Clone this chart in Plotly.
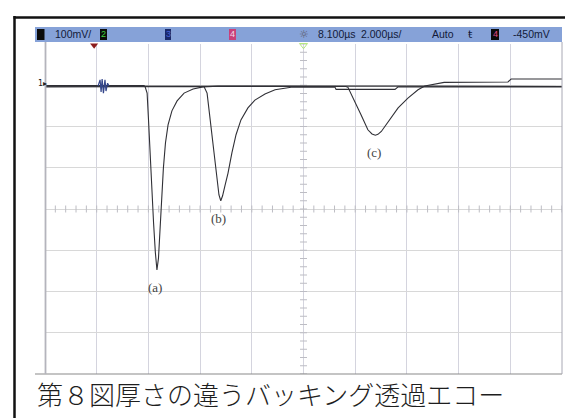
import plotly.graph_objects as go

# ---------------- data ----------------
# time in microseconds, amplitude in mV (baseline ~ 0)
trace_a_t = [-1.90, 1.93, 1.97, 2.05, 2.10, 2.16, 2.22, 2.30, 2.37, 2.43, 2.49, 2.55, 2.61,
             2.68, 2.76, 2.86, 3.01, 3.21, 3.48, 3.83, 4.21, 4.79, 12.14, 13.30, 14.85, 18.10]
trace_a_v = [-1, -1, -3, -19, -79, -164, -249, -334, -406, -448, -419, -346, -273,
             -201, -140, -96, -62, -38, -19, -9, -4, -2, -2, -2, -3, -3]

trace_b_t = [-1.90, 4.25, 4.37, 4.46, 4.56, 4.66, 4.75, 4.83, 4.90, 4.97, 5.06, 5.18, 5.33,
             5.49, 5.68, 5.95, 6.22, 6.61, 7.00, 7.62, 9.32, 9.36, 11.64, 11.76, 18.10]
trace_b_v = [-4, -3, -19, -67, -123, -176, -230, -266, -280, -268, -244, -213, -164,
             -120, -84, -55, -36, -21, -11, -5, -5, -10, -10, -4, -4]

trace_c_t = [-1.90, 9.74, 9.82, 10.08, 10.32, 10.59, 10.75, 10.88, 10.98, 11.11, 11.37,
             11.76, 12.14, 12.53, 12.79, 13.11, 13.54, 16.01, 16.13, 18.10]
trace_c_v = [-2, -3, -5, -38, -71, -108, -118, -121, -119, -112, -89,
             -55, -31, -11, -2, 2, 7, 8, 15, 15]

pulse_t = [0.15, 0.23, 0.27, 0.31, 0.36, 0.42, 0.46, 0.52, 0.58]
pulse_v = [-2, 13, -16, 15, -19, 13, -14, 5, -2]

echo_labels = ["(a)", "(b)", "(c)"]
echo_label_t = [2.34, 4.83, 10.83]
echo_label_v = [-491, -322, -164]

status_texts = ["100mV/", "8.100µs", "2.000µs/", "Auto", "-450mV"]
caption = "第８図厚さの違うバッキング透過エコー"

# ---------------- geometry ----------------
W, H = 573, 418
ML, MR, MT, MB = 37, 19, 36, 52
PW = W - ML - MR
PH = H - MT - MB
T_MIN, T_MAX = -1.9, 18.1
V_MIN, V_MAX = -700, 100
T_DIV, V_DIV = 2.0, 100.0
T_CENTER = (T_MIN + T_MAX) / 2
V_CENTER = (V_MIN + V_MAX) / 2


def px(x):
    return (x - ML) / PW


def py(y):
    return 1 - (y - MT) / PH


fig = go.Figure()

# graticule sub-division ticks along the centre lines
sub_t = []
n = int(round((T_MAX - T_MIN) / (T_DIV / 5)))
for i in range(n + 1):
    sub_t.append(T_MIN + i * T_DIV / 5)
fig.add_trace(go.Scatter(x=sub_t, y=[V_CENTER] * len(sub_t), mode="markers",
                         marker=dict(symbol="line-ns", size=5,
                                     line=dict(color="#bdbdc4", width=1)),
                         hoverinfo="skip", showlegend=False))
sub_v = []
m = int(round((V_MAX - V_MIN) / (V_DIV / 5)))
for i in range(m + 1):
    sub_v.append(V_MIN + i * V_DIV / 5)
fig.add_trace(go.Scatter(x=[T_CENTER] * len(sub_v), y=sub_v, mode="markers",
                         marker=dict(symbol="line-ew", size=5,
                                     line=dict(color="#bdbdc4", width=1)),
                         hoverinfo="skip", showlegend=False))

line_col = "#303036"
for tt, vv in [(trace_a_t, trace_a_v), (trace_b_t, trace_b_v), (trace_c_t, trace_c_v)]:
    fig.add_trace(go.Scatter(x=tt, y=vv, mode="lines",
                             line=dict(color=line_col, width=1.1),
                             hoverinfo="skip", showlegend=False))
fig.add_trace(go.Scatter(x=pulse_t, y=pulse_v, mode="lines",
                         line=dict(color="#34468a", width=1.2),
                         hoverinfo="skip", showlegend=False))

# trigger markers under the status bar
fig.add_trace(go.Scatter(x=[0], y=[V_MAX - 3], mode="markers", cliponaxis=False,
                         marker=dict(symbol="triangle-down", size=7, color="#8b1c1c"),
                         hoverinfo="skip", showlegend=False))
fig.add_trace(go.Scatter(x=[T_CENTER], y=[V_MAX - 3], mode="markers", cliponaxis=False,
                         marker=dict(symbol="triangle-down-open", size=7,
                                     line=dict(color="#999999", width=1)),
                         hoverinfo="skip", showlegend=False))

annotations = []
for lab, lt, lv in zip(echo_labels, echo_label_t, echo_label_v):
    annotations.append(dict(x=lt, y=lv, xref="x", yref="y", text=lab, showarrow=False,
                            font=dict(family="Liberation Serif", size=13, color="#444444")))

shapes = []
# outer frame (left and top)
shapes.append(dict(type="line", xref="paper", yref="paper", x0=px(6.5), x1=px(6.5),
                   y0=py(8), y1=py(420), line=dict(color="#111111", width=2.5)))
shapes.append(dict(type="line", xref="paper", yref="paper", x0=px(5.5), x1=px(575),
                   y0=py(9.5), y1=py(9.5), line=dict(color="#111111", width=2.5)))
# caption separator
shapes.append(dict(type="line", xref="paper", yref="paper", x0=px(27), x1=px(554),
                   y0=py(366), y1=py(366), line=dict(color="#8a8a8a", width=1.2)))
# plot side edges
shapes.append(dict(type="line", xref="paper", yref="paper", x0=px(37.5), x1=px(37.5),
                   y0=py(34), y1=py(366), line=dict(color="#b4b4bc", width=1.8)))
shapes.append(dict(type="line", xref="paper", yref="paper", x0=px(554), x1=px(554),
                   y0=py(34), y1=py(366), line=dict(color="#a8a8b4", width=1)))
# status bar
shapes.append(dict(type="rect", xref="paper", yref="paper", x0=px(27), x1=px(554),
                   y0=py(34), y1=py(19), fillcolor="#86a2d8", line=dict(width=0), layer="above"))
# channel boxes in status bar
boxes = [(29, 36.5, "#0b0b0b"), (92, 99, "#0b0b0b"), (157, 163, "#1a2a6a"),
         (221, 228, "#c8407a"), (483, 491, "#0b0b0b")]
for x0, x1, c in boxes:
    shapes.append(dict(type="rect", xref="paper", yref="paper", x0=px(x0), x1=px(x1),
                       y0=py(32), y1=py(21), fillcolor=c, line=dict(width=0), layer="above"))

sfont = dict(family="Liberation Sans", size=10.5, color="#121a38")
status_x = [46, 309, 352, 423, 504]
for txt, sx in zip(status_texts, status_x):
    annotations.append(dict(x=px(sx), y=py(26.5), xref="paper", yref="paper", text=txt,
                            showarrow=False, xanchor="left", yanchor="middle", font=sfont,
                            borderpad=0))
# channel numbers inside boxes
for txt, cx, col in [("2", 95.5, "#3fd43f"), ("3", 160, "#4a64d8"),
                     ("4", 224.5, "#f0d8e8"), ("4", 487, "#e04a8a")]:
    annotations.append(dict(x=px(cx), y=py(26.5), xref="paper", yref="paper", text=txt,
                            showarrow=False, xanchor="center", yanchor="middle",
                            font=dict(family="Liberation Sans", size=9, color=col)))
annotations.append(dict(x=px(295.6), y=py(26.5), xref="paper", yref="paper", text="☼",
                        showarrow=False, xanchor="center", yanchor="middle",
                        font=dict(family="DejaVu Sans", size=11, color="#5a5a6a")))
annotations.append(dict(x=px(462), y=py(26.5), xref="paper", yref="paper", text="ŧ",
                        showarrow=False, xanchor="center", yanchor="middle",
                        font=dict(family="DejaVu Sans", size=11, color="#121a38")))
# channel 1 ground marker
annotations.append(dict(x=px(27.5), y=py(75), xref="paper", yref="paper", text="1▸",
                        showarrow=False, xanchor="left", yanchor="middle",
                        font=dict(family="DejaVu Sans", size=8, color="#222222")))
# caption
annotations.append(dict(x=px(27), y=py(385.5), xref="paper", yref="paper", text=caption,
                        showarrow=False, xanchor="left", yanchor="middle",
                        font=dict(family="Noto Sans CJK JP", size=26, color="#1e1e1e",
                                  weight=300)))

fig.update_layout(
    width=W, height=H,
    margin=dict(l=ML, r=MR, t=MT, b=MB, pad=0),
    paper_bgcolor="white", plot_bgcolor="white",
    showlegend=False,
    shapes=shapes, annotations=annotations,
    xaxis=dict(range=[T_MIN, T_MAX], tick0=T_MIN, dtick=T_DIV, showticklabels=False,
               ticks="", showgrid=True, gridcolor="#d4d4de", gridwidth=1,
               zeroline=False, showline=False, fixedrange=True),
    yaxis=dict(range=[V_MIN, V_MAX], tick0=V_MIN, dtick=V_DIV, showticklabels=False,
               ticks="", showgrid=True, gridcolor="#d8d8d8", gridwidth=1,
               zeroline=False, showline=False, fixedrange=True),
)

fig.write_html("out.html")
